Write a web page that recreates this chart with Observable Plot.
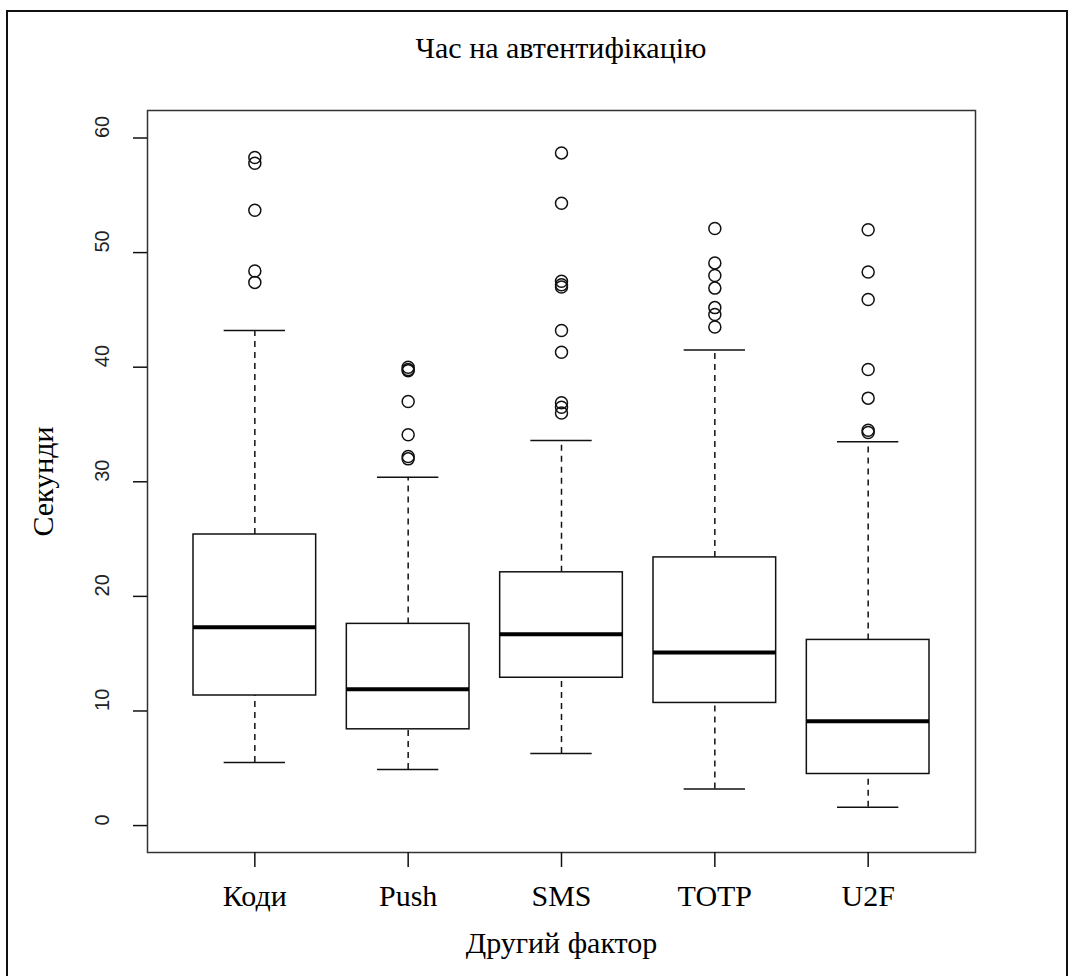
<!DOCTYPE html>
<html>
<head>
<meta charset="utf-8">
<script src="https://cdn.jsdelivr.net/npm/d3@7"></script>
<script src="https://cdn.jsdelivr.net/npm/@observablehq/plot@0.6"></script>
<style>
  html, body { margin: 0; padding: 0; background: #fff; }
  #wrap { position: relative; width: 1074px; height: 976px; overflow: hidden; }
  #border { position: absolute; left: 6px; top: 10px; width: 1062px; height: 1000px; border: 2px solid #111; box-sizing: border-box; }
  #title { position: absolute; left: 0; width: 1122px; top: 30px; line-height: 36px; text-align: center;
           font-family: "Liberation Serif", "DejaVu Serif", serif; font-size: 30px; color: #000; }
  #chart { position: absolute; left: 0; top: 0; }
</style>
</head>
<body>
<div id="wrap">
  <div id="border"></div>
  <div id="title">Час на автентифікацію</div>
  <div id="chart"></div>
</div>
<script>
const categories = ["Коди", "Push", "SMS", "TOTP", "U2F"];
const q1       = [11.35, 8.4, 12.9, 10.7, 4.5];
const medians  = [17.3, 11.9, 16.7, 15.1, 9.1];
const q3       = [25.4, 17.6, 22.1, 23.4, 16.2];
const whiskLo  = [5.5, 4.9, 6.3, 3.2, 1.6];
const whiskHi  = [43.2, 30.4, 33.6, 41.5, 33.5];
const outliers = [
  [58.3, 57.8, 53.7, 48.4, 47.4],
  [40.0, 39.8, 39.7, 37.0, 34.1, 32.2, 32.0],
  [58.7, 54.3, 47.5, 47.2, 47.0, 43.2, 41.3, 36.9, 36.5, 36.0],
  [52.1, 49.1, 48.0, 46.9, 45.2, 44.6, 43.5],
  [52.0, 48.3, 45.9, 39.8, 37.3, 34.5, 34.3]
];
const yTicks = [0, 10, 20, 30, 40, 50, 60];

const boxes = categories.map((c, i) => ({
  pos: i + 1, cat: c, q1: q1[i], med: medians[i], q3: q3[i], lo: whiskLo[i], hi: whiskHi[i]
}));
const outlierPts = outliers.flatMap((arr, i) => arr.map(v => ({pos: i + 1, v})));

const ink = "#111";
const serif = "Liberation Serif, DejaVu Serif, serif";
const sans = "Liberation Sans, Arial, sans-serif";

const chart = Plot.plot({
  width: 1074,
  height: 976,
  marginLeft: 147,
  marginRight: 99,
  marginTop: 110,
  marginBottom: 124,
  x: {type: "linear", domain: [0.3, 5.7], axis: null},
  y: {domain: [-2.35, 62.4], axis: null},
  style: {background: "transparent"},
  marks: [
    // whiskers (dashed)
    Plot.ruleX(boxes, {x: "pos", y1: "q3", y2: "hi", stroke: ink, strokeWidth: 1.5, strokeDasharray: "6,5"}),
    Plot.ruleX(boxes, {x: "pos", y1: "lo", y2: "q1", stroke: ink, strokeWidth: 1.5, strokeDasharray: "6,5"}),
    // whisker caps
    Plot.ruleY(boxes, {y: "hi", x1: d => d.pos - 0.2, x2: d => d.pos + 0.2, stroke: ink, strokeWidth: 1.5}),
    Plot.ruleY(boxes, {y: "lo", x1: d => d.pos - 0.2, x2: d => d.pos + 0.2, stroke: ink, strokeWidth: 1.5}),
    // boxes
    Plot.rect(boxes, {x1: d => d.pos - 0.4, x2: d => d.pos + 0.4, y1: "q1", y2: "q3", fill: "white", stroke: ink, strokeWidth: 1.5}),
    // medians
    Plot.ruleY(boxes, {y: "med", x1: d => d.pos - 0.4, x2: d => d.pos + 0.4, stroke: "#000", strokeWidth: 4}),
    // outliers
    Plot.dot(outlierPts, {x: "pos", y: "v", r: 6, stroke: ink, strokeWidth: 1.5, fill: "none"}),
    // frame
    Plot.frame({stroke: "#333", strokeWidth: 1.5}),
    // y axis ticks
    Plot.axisY({ticks: yTicks, tickSize: 14, tickFormat: () => "", label: null, stroke: ink, strokeWidth: 1.5}),
    // y tick labels rotated
    Plot.text(yTicks, {y: d => d, text: d => String(d), frameAnchor: "left", dx: -45, rotate: -90,
      fontSize: 20, fontFamily: sans, fill: "#222"}),
    // x axis ticks and labels
    Plot.axisX({ticks: [1, 2, 3, 4, 5], tickSize: 15, tickPadding: 0, tickFormat: () => "", label: null, stroke: ink, strokeWidth: 1.5}),
    Plot.text(boxes, {x: "pos", text: "cat", frameAnchor: "bottom", dy: 53, fontSize: 30, fontFamily: serif, fill: "#000"}),
    // axis titles
    Plot.text(["Другий фактор"], {frameAnchor: "bottom", dy: 100, fontSize: 30, fontFamily: serif, fill: "#000"}),
    Plot.text(["Секунди"], {frameAnchor: "left", dx: -104, rotate: -90, textAnchor: "middle", fontSize: 30, fontFamily: serif, fill: "#000"})
  ]
});
document.getElementById("chart").appendChild(chart);
</script>
</body>
</html>
